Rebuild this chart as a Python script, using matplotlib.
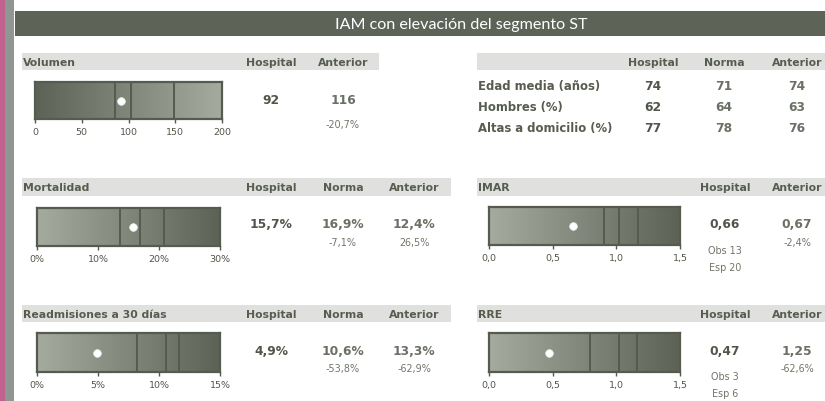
import matplotlib
matplotlib.use("Agg")
import matplotlib.pyplot as plt
import numpy as np
from matplotlib.colors import LinearSegmentedColormap
from matplotlib.patches import Rectangle

W, H = 825, 401
DPI = 100

# ---------------- data ----------------
title = "IAM con elevación del segmento ST"

vol_ranges = [86, 103, 149]
vol_value = 92
vol_max = 200
vol_ticks = [0, 50, 100, 150, 200]
vol_ticklabels = ["0", "50", "100", "150", "200"]
vol_hospital = "92"
vol_anterior = "116"
vol_anterior_diff = "-20,7%"

mort_ranges = [13.6, 16.9, 20.8]
mort_value = 15.7
mort_max = 30
mort_ticks = [0, 10, 20, 30]
mort_ticklabels = ["0%", "10%", "20%", "30%"]
mort_hospital = "15,7%"
mort_norma = "16,9%"
mort_norma_diff = "-7,1%"
mort_anterior = "12,4%"
mort_anterior_diff = "26,5%"

readm_ranges = [8.2, 10.6, 11.6]
readm_value = 4.9
readm_max = 15
readm_ticks = [0, 5, 10, 15]
readm_ticklabels = ["0%", "5%", "10%", "15%"]
readm_hospital = "4,9%"
readm_norma = "10,6%"
readm_norma_diff = "-53,8%"
readm_anterior = "13,3%"
readm_anterior_diff = "-62,9%"

imar_ranges = [0.9, 1.02, 1.17]
imar_value = 0.66
imar_max = 1.5
imar_ticks = [0, 0.5, 1.0, 1.5]
imar_ticklabels = ["0,0", "0,5", "1,0", "1,5"]
imar_hospital = "0,66"
imar_obs = "Obs 13"
imar_esp = "Esp 20"
imar_anterior = "0,67"
imar_anterior_diff = "-2,4%"

rre_ranges = [0.79, 1.02, 1.16]
rre_value = 0.47
rre_max = 1.5
rre_ticks = [0, 0.5, 1.0, 1.5]
rre_ticklabels = ["0,0", "0,5", "1,0", "1,5"]
rre_hospital = "0,47"
rre_obs = "Obs 3"
rre_esp = "Esp 6"
rre_anterior = "1,25"
rre_anterior_diff = "-62,6%"

table_rows = ["Edad media (años)", "Hombres (%)", "Altas a domicilio (%)"]
table_cols = ["Hospital", "Norma", "Anterior"]
table_hospital = ["74", "62", "77"]
table_norma = ["71", "64", "78"]
table_anterior = ["74", "63", "76"]

# ---------------- style ----------------
C_TITLEBAR = "#5e6358"
C_BAND = "#e0e1de"
C_HEAD = "#565d4f"
C_VAL = "#50564a"
C_VAL2 = "#6a7164"
C_SUB = "#6f7668"
C_DARK = "#5c6256"
C_LIGHT = "#a5ac9f"
C_LINE = "#555b4f"
FONT = "DejaVu Sans"
VA = "center_baseline"

fig = plt.figure(figsize=(W / DPI, H / DPI), dpi=DPI)
fig.patch.set_facecolor("white")
bg = fig.add_axes([0, 0, 1, 1])
bg.set_xlim(0, W)
bg.set_ylim(H, 0)
bg.axis("off")

# left stripes
bg.add_patch(Rectangle((0, 0), 4.5, H, color="#c0618f", lw=0))
bg.add_patch(Rectangle((4.5, 0), 9.5, H, color="#8f9890", lw=0))
# title bar
bg.add_patch(Rectangle((15, 11), W - 15, 25, color=C_TITLEBAR, lw=0))
bg.text(461, 24, title, color="white", fontsize=11.6, family="Lato",
        ha="center", va=VA)

# header bands
def band(x0, x1, y0, y1):
    bg.add_patch(Rectangle((x0, y0), x1 - x0, y1 - y0, color=C_BAND, lw=0))

band(22, 379, 53, 70)
band(477, 825, 53, 70)
band(22, 451, 178, 196)
band(477, 825, 178, 196)
band(22, 451, 305, 322)
band(477, 825, 305, 322)

def htext(x, y, s, ha="center", size=7.8):
    bg.text(x, y, s, color=C_HEAD, fontsize=size, fontweight="bold",
            family=FONT, ha=ha, va=VA)

def vtext(x, y, s, color=C_VAL):
    bg.text(x, y, s, color=color, fontsize=8.8, fontweight="bold",
            family=FONT, ha="center", va=VA)

def stext(x, y, s):
    bg.text(x, y, s, color=C_SUB, fontsize=6.9, family=FONT,
            ha="center", va=VA)

# ---- Volumen ----
htext(23, 62, "Volumen", ha="left")
htext(271, 62, "Hospital")
htext(343, 62, "Anterior")
vtext(271, 99, vol_hospital)
vtext(343, 99, vol_anterior, C_VAL2)
stext(343, 124, vol_anterior_diff)

# ---- table ----
for c, x in zip(table_cols, [653, 724, 797]):
    htext(x, 62, c)
for i, (lab, h, n, a) in enumerate(zip(table_rows, table_hospital, table_norma, table_anterior)):
    y = 85 + 21 * i
    htext(478, y, lab, ha="left", size=8.4)
    vtext(653, y, h)
    vtext(724, y, n, C_VAL2)
    vtext(797, y, a, C_VAL2)

# ---- Mortalidad ----
htext(23, 187, "Mortalidad", ha="left")
htext(271, 187, "Hospital")
htext(343, 187, "Norma")
htext(414, 187, "Anterior")
vtext(271, 223, mort_hospital)
vtext(343, 223, mort_norma, C_VAL2)
stext(343, 242, mort_norma_diff)
vtext(414, 223, mort_anterior, C_VAL2)
stext(414, 242, mort_anterior_diff)

# ---- Readmisiones ----
htext(23, 314, "Readmisiones a 30 días", ha="left")
htext(271, 314, "Hospital")
htext(343, 314, "Norma")
htext(414, 314, "Anterior")
vtext(271, 350, readm_hospital)
vtext(343, 350, readm_norma, C_VAL2)
stext(343, 368, readm_norma_diff)
vtext(414, 350, readm_anterior, C_VAL2)
stext(414, 368, readm_anterior_diff)

# ---- IMAR ----
htext(478, 187, "IMAR", ha="left")
htext(725, 187, "Hospital")
htext(797, 187, "Anterior")
vtext(725, 223, imar_hospital)
stext(725, 250, imar_obs)
stext(725, 267, imar_esp)
vtext(797, 223, imar_anterior, C_VAL2)
stext(797, 242, imar_anterior_diff)

# ---- RRE ----
htext(478, 314, "RRE", ha="left")
htext(725, 314, "Hospital")
htext(797, 314, "Anterior")
vtext(725, 350, rre_hospital)
stext(725, 376, rre_obs)
stext(725, 393, rre_esp)
vtext(797, 350, rre_anterior, C_VAL2)
stext(797, 368, rre_anterior_diff)

# ---------------- bullet charts ----------------
def bullet(x0, x1, y0, y1, ranges, value, vmax, ticks, ticklabels, dark_left):
    ax = fig.add_axes([x0 / W, 1 - y1 / H, (x1 - x0) / W, (y1 - y0) / H])
    cols = [C_DARK, C_LIGHT] if dark_left else [C_LIGHT, C_DARK]
    cmap = LinearSegmentedColormap.from_list("g", cols)
    grad = np.linspace(0, 1, 256).reshape(1, -1)
    ax.imshow(grad, cmap=cmap, extent=[0, vmax, 0, 1], aspect="auto",
              interpolation="bilinear", zorder=0)
    for r in ranges:
        ax.axvline(r, color=C_LINE, lw=1.4, zorder=2)
    ax.scatter([value], [0.5], s=30, color="white", edgecolors="#f4f4f2",
               linewidths=0.5, zorder=3)
    ax.set_xlim(0, vmax)
    ax.set_ylim(0, 1)
    ax.set_yticks([])
    ax.set_xticks(ticks)
    ax.set_xticklabels(ticklabels)
    for s in ax.spines.values():
        s.set_color(C_LINE)
        s.set_linewidth(1.6)
    ax.tick_params(axis="x", length=3, width=1, color=C_LINE, pad=3.5,
                   labelsize=6.8, labelcolor=C_VAL)
    for t in ax.get_xticklabels():
        t.set_family(FONT)
    return ax

bullet(35, 222, 82, 119, vol_ranges, vol_value, vol_max, vol_ticks, vol_ticklabels, True)
bullet(37, 220, 208, 246, mort_ranges, mort_value, mort_max, mort_ticks, mort_ticklabels, False)
bullet(37, 220, 333, 372, readm_ranges, readm_value, readm_max, readm_ticks, readm_ticklabels, False)
bullet(489, 680, 207, 245, imar_ranges, imar_value, imar_max, imar_ticks, imar_ticklabels, False)
bullet(489, 680, 333, 372, rre_ranges, rre_value, rre_max, rre_ticks, rre_ticklabels, False)

fig.savefig("out.png", dpi=DPI, facecolor="white")
